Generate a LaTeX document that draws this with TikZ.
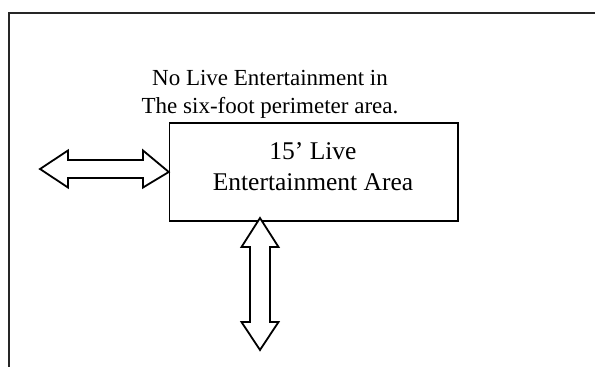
\documentclass[tikz,border=0pt]{standalone}
\usepackage{fontspec}
\setmainfont{Liberation Serif}
\begin{document}
\begin{tikzpicture}[x=1pt,y=-1pt,
  frame/.style={line width=1.5pt, draw=black!85},
  areabox/.style={draw, line width=1.4pt, minimum width=288.5pt, minimum height=98pt, inner sep=0pt},
  areatext/.style={align=center, inner sep=0pt, font=\fontsize{25.5}{31}\selectfont},
  notetext/.style={align=center, inner sep=0pt, font=\fontsize{23}{28}\selectfont},
  blockarrow/.style={draw, line width=1.8pt, line join=miter, fill=white}]
\useasboundingbox (0,0) rectangle (595,367);
\fill[white] (0,0) rectangle (595,367);
% outer frame (extends beyond the picture)
\coordinate (fTL) at (9,13);
\coordinate (fTR) at (596,13);
\coordinate (fBL) at (9,368);
\draw[frame] (fTR) -- (fTL) -- (fBL);
% note
\node[notetext] (note) at (270,94) {No Live Entertainment in\\The six-foot perimeter area.};
% live entertainment area
\node[areabox] (area) at (313.75,172) {};
\node[areatext] (arealabel) at (313,167) {15' Live\\Entertainment Area};
% horizontal double arrow
\draw[blockarrow] (40,169) -- (68,150.5) -- (68,160) -- (143,160) -- (143,150.5)
  -- (area.west) -- (143,187.5) -- (143,178) -- (68,178) -- (68,187.5) -- cycle;
% vertical double arrow
\draw[blockarrow] (260,218) -- (278.5,247) -- (270,247) -- (270,322) -- (278.5,322)
  -- (260,350) -- (241.5,322) -- (250,322) -- (250,247) -- (241.5,247) -- cycle;
\end{tikzpicture}
\end{document}
